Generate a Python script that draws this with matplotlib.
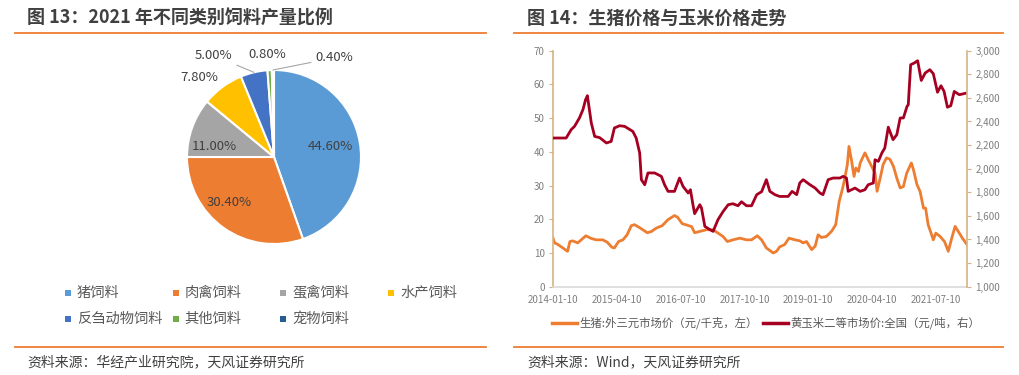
import numpy as np
import pandas as pd
import matplotlib
matplotlib.use('Agg')
import matplotlib.pyplot as plt
from matplotlib.patches import Rectangle
from matplotlib.lines import Line2D
from matplotlib.ticker import FuncFormatter

plt.rcParams['font.family'] = ['Noto Sans CJK SC', 'DejaVu Sans']

# 图13 数据
feed_types = ['猪饲料', '肉禽饲料', '蛋禽饲料', '水产饲料', '反刍动物饲料', '其他饲料', '宠物饲料']
feed_share = [44.6, 30.4, 11.0, 7.8, 5.0, 0.8, 0.4]
feed_colors = ['#5B9BD5', '#ED7D31', '#A5A5A5', '#FFC000', '#4472C4', '#70AD47', '#255E91']

# 图14 数据
pig_dates = ['2014-01-10', '2014-01-22', '2014-02-15', '2014-03-21', '2014-04-24', '2014-05-11',
             '2014-05-31', '2014-07-06', '2014-07-31', '2014-09-02', '2014-10-11', '2014-11-16',
             '2015-01-01', '2015-02-02', '2015-03-07', '2015-03-25', '2015-04-24', '2015-05-25',
             '2015-06-24', '2015-07-24', '2015-08-16', '2015-09-22', '2015-11-16', '2015-12-16',
             '2016-01-19', '2016-03-01', '2016-04-12', '2016-05-28', '2016-06-19', '2016-07-22',
             '2016-08-31', '2016-09-28', '2016-10-19', '2016-11-25', '2017-01-13', '2017-02-28',
             '2017-04-04', '2017-05-10', '2017-06-10', '2017-07-20', '2017-09-07', '2017-10-25',
             '2017-11-30', '2018-01-10', '2018-02-10', '2018-03-16', '2018-05-04', '2018-05-28',
             '2018-06-19', '2018-07-25', '2018-08-25', '2018-10-07', '2018-11-10', '2018-12-04',
             '2018-12-28', '2019-02-03', '2019-02-28', '2019-03-21', '2019-04-14', '2019-05-19',
             '2019-06-25', '2019-07-25', '2019-08-19', '2019-09-13', '2019-09-28', '2019-10-16',
             '2019-10-28', '2019-11-16', '2019-12-03', '2019-12-16', '2020-01-04', '2020-01-16',
             '2020-02-19', '2020-03-13', '2020-04-07', '2020-05-01', '2020-05-16', '2020-06-07',
             '2020-06-28', '2020-07-22', '2020-08-16', '2020-09-10', '2020-10-04', '2020-10-28',
             '2020-11-20', '2020-12-14', '2021-01-16', '2021-01-31', '2021-02-25', '2021-03-19',
             '2021-04-13', '2021-04-28', '2021-05-16', '2021-06-10', '2021-06-22', '2021-07-10',
             '2021-08-10', '2021-09-10', '2021-10-07', '2021-11-01', '2021-11-25', '2021-12-25',
             '2022-01-16', '2022-02-18']
pig_price = [14.4, 13.0, 12.5, 11.5, 10.5, 13.4,
             13.6, 13.0, 13.9, 15.1, 14.3, 13.9,
             13.9, 13.2, 11.7, 11.5, 13.4, 13.9,
             15.4, 18.1, 18.4, 17.5, 16.0, 16.4,
             17.4, 18.1, 19.9, 21.1, 20.6, 18.7,
             18.2, 17.8, 16.0, 16.4, 16.9, 16.9,
             15.9, 14.9, 13.4, 13.9, 14.4, 13.9,
             13.9, 15.1, 13.9, 11.5, 10.0, 10.5,
             11.8, 12.5, 14.4, 13.9, 13.6, 13.0,
             13.4, 11.0, 12.0, 15.4, 14.6, 14.9,
             16.4, 18.4, 25.3, 29.3, 32.2, 36.2,
             41.6, 37.2, 32.7, 35.2, 34.2, 36.7,
             39.7, 37.7, 35.7, 33.7, 28.3, 32.2,
             36.2, 38.2, 37.8, 35.7, 32.2, 29.3,
             29.7, 33.7, 36.7, 34.7, 30.3, 28.3,
             23.3, 23.3, 18.4, 15.4, 13.9, 15.9,
             14.9, 13.4, 10.5, 14.4, 17.9, 15.9,
             14.4, 12.5]

corn_dates = ['2014-01-10', '2014-04-14', '2014-05-20', '2014-06-13', '2014-07-18', '2014-08-12',
              '2014-08-31', '2014-09-13', '2014-10-11', '2014-11-04', '2014-12-10', '2015-01-27',
              '2015-03-02', '2015-03-25', '2015-05-01', '2015-06-06', '2015-08-04', '2015-08-28',
              '2015-09-22', '2015-10-04', '2015-10-28', '2015-11-20', '2016-01-07', '2016-02-24',
              '2016-03-18', '2016-04-12', '2016-05-28', '2016-07-03', '2016-07-28', '2016-09-03',
              '2016-09-19', '2016-10-07', '2016-10-19', '2016-11-25', '2016-12-07', '2016-12-31',
              '2017-02-06', '2017-02-28', '2017-04-04', '2017-05-10', '2017-06-16', '2017-07-20',
              '2017-08-25', '2017-09-19', '2017-10-25', '2017-11-30', '2018-01-06', '2018-02-10',
              '2018-03-16', '2018-04-10', '2018-05-16', '2018-06-19', '2018-08-19', '2018-09-16',
              '2018-10-19', '2018-11-10', '2018-12-04', '2019-01-22', '2019-02-28', '2019-04-03',
              '2019-04-25', '2019-06-01', '2019-07-07', '2019-08-24', '2019-09-16', '2019-10-10',
              '2019-10-22', '2019-12-10', '2020-01-16', '2020-02-19', '2020-03-13', '2020-04-19',
              '2020-05-01', '2020-05-25', '2020-06-19', '2020-07-10', '2020-08-04', '2020-09-07',
              '2020-10-04', '2020-10-28', '2020-11-20', '2020-12-16', '2020-12-25', '2021-01-11',
              '2021-02-06', '2021-03-02', '2021-03-28', '2021-04-25', '2021-05-28', '2021-06-22',
              '2021-07-22', '2021-08-16', '2021-09-07', '2021-10-01', '2021-10-25', '2021-11-19',
              '2021-12-25', '2022-02-18']
corn_price = [2260, 2260, 2331, 2359, 2430, 2500,
              2585, 2619, 2387, 2274, 2263, 2218,
              2231, 2345, 2364, 2359, 2316, 2260,
              2133, 1907, 1864, 1964, 1964, 1935,
              1864, 1808, 1808, 1921, 1850, 1794,
              1822, 1695, 1619, 1695, 1667, 1511,
              1483, 1469, 1568, 1636, 1695, 1703,
              1686, 1720, 1686, 1686, 1780, 1805,
              1907, 1808, 1780, 1765, 1765, 1808,
              1780, 1879, 1907, 1864, 1836, 1794,
              1780, 1907, 1921, 1921, 1935, 1921,
              1808, 1836, 1808, 1822, 1864, 1879,
              2076, 2062, 2133, 2175, 2352, 2246,
              2288, 2430, 2430, 2528, 2542, 2881,
              2896, 2915, 2748, 2811, 2839, 2805,
              2648, 2703, 2655, 2521, 2534, 2655,
              2627, 2642]

date_ticks = ['2014-01-10', '2015-04-10', '2016-07-10', '2017-10-10',
              '2019-01-10', '2020-04-10', '2021-07-10']

W, H = 1019, 375
ORANGE = '#ED7D31'
TEXT = '#404040'
TAN = '#D4B483'

fig = plt.figure(figsize=(W / 100, H / 100), dpi=100)


def fx(x):
    return x / W


def fy(y):
    return 1 - y / H


# 标题、分隔线、资料来源
for x0, x1, tx, title, src in [
        (15, 486, 27, '图 13：2021 年不同类别饲料产量比例', '资料来源：华经产业研究院，天风证券研究所'),
        (514, 1003, 527, '图 14：生猪价格与玉米价格走势', '资料来源：Wind，天风证券研究所')]:
    fig.text(fx(tx), fy(18), title, fontsize=13, fontweight='bold', color=TEXT, va='center')
    fig.add_artist(Line2D([fx(x0), fx(x1)], [fy(33), fy(33)], color=ORANGE, lw=1.3))
    fig.add_artist(Line2D([fx(x0), fx(x1)], [fy(346.5), fy(346.5)], color=ORANGE, lw=1.3))
    fig.text(fx(tx), fy(362), src, fontsize=10, color=TEXT, va='center')

# 饼图
ax1 = fig.add_axes([fx(164), fy(267), 220 / W, 220 / H])
wedges, _ = ax1.pie(feed_share, colors=feed_colors, startangle=90, counterclock=False,
                    radius=1, wedgeprops=dict(edgecolor='white', linewidth=1.5))
lim = 110 / 87
ax1.set_xlim(-lim, lim)
ax1.set_ylim(-lim, lim)
ax1.set_aspect('equal')
ax1.axis('off')

label_pos = [(0.65, 0.12), (-0.51, -0.52), (-0.69, 0.12), (-0.86, 0.915),
             (-0.69, 1.165), (-0.075, 1.175), (0.69, 1.14)]
leader = [False, False, False, False, True, False, True]
for w, share, pos, lead in zip(wedges, feed_share, label_pos, leader):
    txt = f'{share:.2f}%'
    if lead:
        mid = np.deg2rad((w.theta1 + w.theta2) / 2)
        ax1.annotate(txt, xy=(np.cos(mid), np.sin(mid)), xytext=pos,
                     ha='center', va='center', fontsize=9.5, color=TEXT,
                     arrowprops=dict(arrowstyle='-', color='#A6A6A6', lw=0.8,
                                     shrinkA=1, shrinkB=0))
    else:
        ax1.text(pos[0], pos[1], txt, ha='center', va='center', fontsize=9.5, color=TEXT)

# 饼图图例
for i, name in enumerate(feed_types):
    row, col = divmod(i, 4)
    x = 68 + col * 107.7
    y = 292.5 + row * 26
    fig.add_artist(Rectangle((fx(x - 3), fy(y + 3)), 6 / W, 6 / H,
                             transform=fig.transFigure, color=feed_colors[i], lw=0))
    fig.text(fx(x + 9), fy(y), name, fontsize=10.3, color='#595959', va='center')

# 折线图
pig_x = pd.to_datetime(pig_dates)
corn_x = pd.to_datetime(corn_dates)

ax2 = fig.add_axes([fx(553), fy(286.7), 414 / W, 236 / H])
ax2.plot(pig_x, pig_price, color=ORANGE, lw=2)
ax2.set_ylim(0, 70)
ax2.set_yticks(range(0, 71, 10))
ax2.set_xlim(pig_x.min(), pig_x.max())
ax2.set_xticks(pd.to_datetime(date_ticks))
ax2.set_xticklabels(date_ticks)
for s in ['top', 'right']:
    ax2.spines[s].set_visible(False)
ax2.spines['left'].set_color(TAN)
ax2.spines['left'].set_linewidth(1.2)
ax2.spines['bottom'].set_color('#D9D9D9')
ax2.spines['bottom'].set_linewidth(1.2)
ax2.tick_params(axis='y', direction='out', length=3, color=TAN, labelsize=7,
                labelcolor='#7F7F7F', pad=3)
ax2.tick_params(axis='x', length=0, labelsize=7, labelcolor='#7F7F7F', pad=6)

ax3 = ax2.twinx()
ax3.plot(corn_x, corn_price, color='#A50021', lw=2)
ax3.set_ylim(1000, 3000)
ax3.set_yticks(range(1000, 3001, 200))
ax3.yaxis.set_major_formatter(FuncFormatter(lambda v, p: f'{int(v):,}'))
for s in ['top', 'left', 'bottom']:
    ax3.spines[s].set_visible(False)
ax3.spines['right'].set_color(TAN)
ax3.spines['right'].set_linewidth(1.2)
ax3.tick_params(axis='y', direction='out', length=3, color=TAN, labelsize=7,
                labelcolor='#7F7F7F', pad=3)

handles = [Line2D([], [], color=ORANGE, lw=2.5), Line2D([], [], color='#A50021', lw=2.5)]
labels = ['生猪:外三元市场价（元/千克，左）', '黄玉米二等市场价:全国（元/吨，右）']
fig.legend(handles, labels, loc='center', bbox_to_anchor=(fx(766), fy(323)), ncol=2,
           frameon=False, fontsize=8.2, labelcolor='#595959', handlelength=2.2,
           handletextpad=0.2, columnspacing=0.4)

fig.savefig('out.png', dpi=100)
